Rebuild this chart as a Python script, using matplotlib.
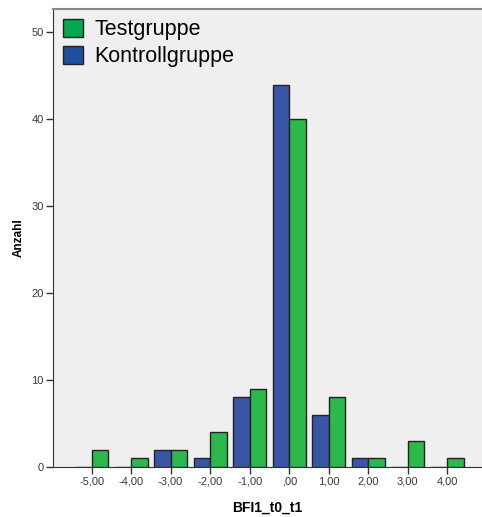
import matplotlib
matplotlib.use("Agg")
import matplotlib.pyplot as plt
from matplotlib.patches import Patch
import numpy as np

plt.rcParams['font.family'] = ['Liberation Sans', 'DejaVu Sans']

categories = [-5, -4, -3, -2, -1, 0, 1, 2, 3, 4]
tick_labels = ["-5,00", "-4,00", "-3,00", "-2,00", "-1,00", ",00", "1,00", "2,00", "3,00", "4,00"]
kontroll = [0, 0, 2, 1, 8, 44, 6, 1, 0, 0]
test = [2, 1, 2, 4, 9, 40, 8, 1, 3, 1]

green = "#2db84b"
blue = "#3a55a6"
bg = "#efefef"

fig = plt.figure(figsize=(4.82, 5.17), dpi=100)
ax = fig.add_axes([0.1105, 0.0967, 0.8895, 0.886])
ax.set_facecolor(bg)

x = np.array(categories, dtype=float)
w = 0.42
ax.bar(x - w / 2, kontroll, width=w, color=blue, edgecolor="#222222", linewidth=1.0, zorder=3)
ax.bar(x + w / 2, test, width=w, color=green, edgecolor="#222222", linewidth=1.0, zorder=3)

ax.set_xlim(-5.97, 4.88)
ax.set_ylim(0, 52.7)
ax.set_xticks(categories)
ax.set_xticklabels(tick_labels, fontsize=8, color="#3a3a3a")
ax.set_yticks([0, 10, 20, 30, 40, 50])
ax.set_yticklabels(["0", "10", "20", "30", "40", "50"], fontsize=8, color="#3a3a3a")
ax.tick_params(axis='both', direction='out', length=5, width=1, color="#333333", pad=2)

ax.spines['right'].set_visible(False)
ax.spines['top'].set_color("#888888")
ax.spines['top'].set_linewidth(1.5)
ax.spines['left'].set_color("#333333")
ax.spines['bottom'].set_color("#333333")

ax.set_xlabel("BFI1_t0_t1", fontsize=10, fontweight='bold', labelpad=10)
ax.set_ylabel("Anzahl", fontsize=8.5, fontweight='bold', labelpad=5)

handles = [Patch(facecolor="#00a94f", edgecolor="#222222", label="Testgruppe"),
           Patch(facecolor="#1f4ea0", edgecolor="#222222", label="Kontrollgruppe")]
ax.legend(handles=handles, loc='upper left', bbox_to_anchor=(0.0, 1.0), frameon=False,
          fontsize=15.5, handlelength=0.95, handleheight=0.95, handletextpad=0.5,
          labelspacing=0.25, borderaxespad=0.3, borderpad=0.15)

fig.savefig("out.png", dpi=100)
